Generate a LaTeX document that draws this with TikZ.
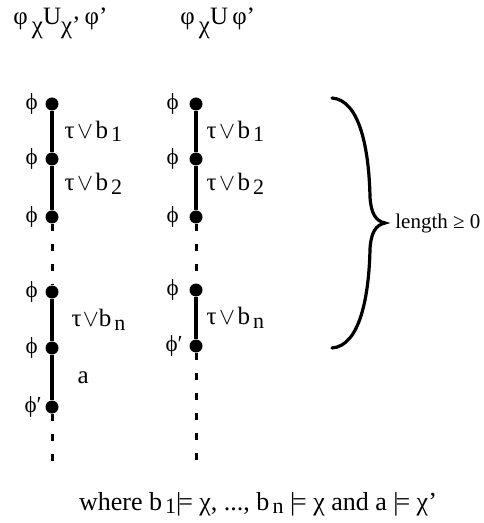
\documentclass[tikz,border=0pt]{standalone}
\usepackage{fontspec}
\setmainfont{Liberation Serif}
\usetikzlibrary{positioning,calc}

\newcommand{\dn}[1]{\kern0.12em\raisebox{-1.8pt}{\fontsize{11}{13}\selectfont #1}}
\newcommand{\mdl}{\textbar\kern-0.12em=}
\newcommand{\tv}{τ\kern0.1em$\vee$\kern0.1em b}

\begin{document}
\begin{tikzpicture}[x=0.5pt,y=-0.5pt,
  dot/.style={circle,fill,inner sep=0pt,minimum size=6.5pt},
  ln/.style={line width=1.6pt},
  dl/.style={line width=1.5pt,dash pattern=on 3.5pt off 6.5pt},
  ph/.style={font=\fontsize{11.5}{13}\selectfont,inner sep=0pt},
  tl/.style={font=\fontsize{12.5}{14}\selectfont,inner sep=0pt},
  hd/.style={font=\fontsize{12.5}{15}\selectfont,inner sep=0pt,anchor=base west}
]
\useasboundingbox (0,0) rectangle (483,523);

\node[hd] (h1) at (13,25) {φ\,\raisebox{-4.5pt}{χ}U\raisebox{-4.5pt}{χ'}\,φ'};
\node[hd] (h2) at (180,25) {φ\,\raisebox{-4.5pt}{χ}U\,φ'};

\node[dot] (l1) at (52,104) {};
\node[dot] (l2) at (52,159) {};
\node[dot] (l3) at (52,217) {};
\node[dot] (l4) at (52,292) {};
\node[dot] (l5) at (52,348) {};
\node[dot] (l6) at (52,407) {};
\coordinate (le) at (52,463);

\node[dot] (r1) at (196,104) {};
\node[dot] (r2) at (196,159) {};
\node[dot] (r3) at (196,217) {};
\node[dot] (r4) at (196,290) {};
\node[dot] (r5) at (196,346) {};
\coordinate (re) at (196,463);

\node[ph,left=3.5pt of l1] (pl1) {ϕ};
\node[ph,left=3.5pt of l2] (pl2) {ϕ};
\node[ph,left=3.5pt of l3] (pl3) {ϕ};
\node[ph,left=3.5pt of l4] (pl4) {ϕ};
\node[ph,left=3.5pt of l5] (pl5) {ϕ};
\node[ph,left=1.5pt of l6] (pl6) {ϕ′};
\node[ph,left=5pt of r1] (pr1) {ϕ};
\node[ph,left=5pt of r2] (pr2) {ϕ};
\node[ph,left=5pt of r3] (pr3) {ϕ};
\node[ph,left=5pt of r4] (pr4) {ϕ};
\node[ph,left=3pt of r5] (pr5) {ϕ′};

\draw[ln] (l1)--node[tl,right=5.5pt] (tl1){\tv\dn{1}}(l2);
\draw[ln] (l2)--node[tl,right=5.5pt,yshift=2pt] (tl2){\tv\dn{2}}(l3);
\draw[dl] (l3)--(l4);
\draw[ln] (l4)--node[tl,right=9pt] (tl3){τ\kern0.05em$\vee$b\dn{n}}(l5);
\draw[ln] (l5)--node[tl,right=12pt] (tl4){a}(l6);
\draw[dl] (l6)--(le);

\draw[ln] (r1)--node[tl,right=4.5pt] (tr1){\tv\dn{1}}(r2);
\draw[ln] (r2)--node[tl,right=4.5pt,yshift=2pt] (tr2){\tv\dn{2}}(r3);
\draw[dl] (r3)--(r4);
\draw[ln] (r4)--node[tl,right=4.5pt] (tr3){\tv\dn{n}}(r5);
\draw[dl] (r5)--(re);

\coordinate (btop) at (332,98);
\coordinate (btip) at (385,223);
\coordinate (bbot) at (332,348);
\draw[line width=1.6pt,line cap=round]
  (btop) .. controls (360,100) and (369,150) .. (370,197)
  .. controls (371,214) and (376,221) .. (btip)
  .. controls (376,225) and (371,232) .. (370,249)
  .. controls (369,296) and (360,346) .. (bbot);
\node[font=\fontsize{10.5}{12}\selectfont,inner sep=0pt,anchor=west] (len) at (395,223) {length ≥ 0};

\node[font=\fontsize{13}{15}\selectfont,inner sep=0pt,anchor=base] (cap) at (258,510)
  {where b\dn{1}\mdl\ χ, ..., b\dn{n} \mdl\ χ and a \mdl\ χ'};
\end{tikzpicture}
\end{document}
